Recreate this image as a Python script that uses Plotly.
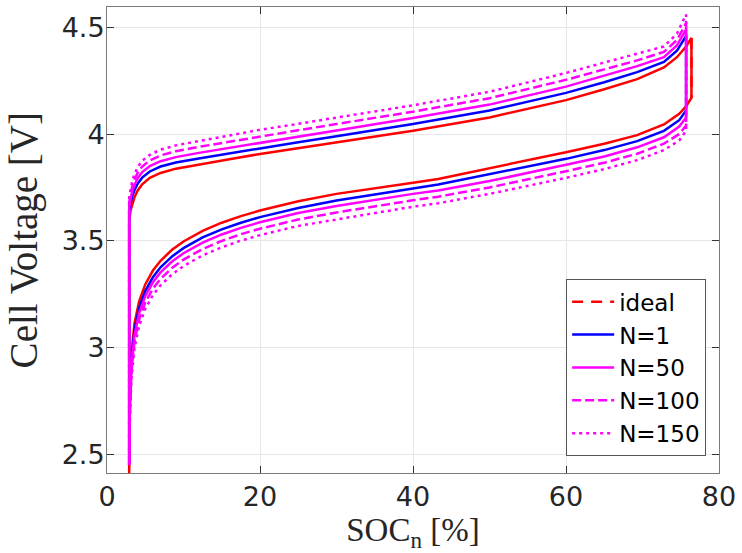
import plotly.graph_objects as go

# ---------------- data ----------------
# charge branch (upper curves), SOC_n [%]
soc_up = [2.9, 2.9, 3.1, 3.3, 3.6, 4.0, 4.6, 5.6, 7, 9, 12, 16, 20, 25, 30, 40, 50, 60, 65, 69.3, 72.8, 74.5, 75.7]
# discharge branch (lower curves), SOC_n [%]
soc_dn = [75.7, 74.8, 72.8, 69.3, 65, 60, 50, 43.3, 40, 30, 25, 20, 17.5, 15, 12.5, 10, 8.5, 7, 6, 5, 4.2, 3.6, 3.2, 3.0, 2.9]

# ideal: loop closes slightly further right
soc_up_ideal = soc_up + [76.4]
soc_dn_ideal = [76.4] + soc_dn

v_up_ideal = [2.41, 3.60, 3.645, 3.675, 3.705, 3.735, 3.765, 3.795, 3.818, 3.838, 3.858, 3.882, 3.907, 3.934, 3.961, 4.016, 4.078, 4.159, 4.21, 4.257, 4.312, 4.36, 4.41, 4.45]
v_dn_ideal = [4.17, 4.13, 4.095, 4.045, 3.995, 3.955, 3.915, 3.842, 3.79, 3.772, 3.72, 3.685, 3.642, 3.616, 3.585, 3.547, 3.497, 3.458, 3.407, 3.361, 3.296, 3.217, 3.115, 2.975, 2.79, 2.41]

v_up_n1 = [2.45, 3.64, 3.68, 3.71, 3.738, 3.767, 3.796, 3.825, 3.848, 3.867, 3.886, 3.91, 3.934, 3.962, 3.99, 4.047, 4.11, 4.193, 4.243, 4.29, 4.338, 4.39, 4.46]
v_dn_n1 = [4.11, 4.065, 4.015, 3.967, 3.925, 3.884, 3.81, 3.764, 3.745, 3.689, 3.654, 3.611, 3.585, 3.554, 3.516, 3.466, 3.427, 3.376, 3.33, 3.265, 3.186, 3.084, 2.944, 2.763, 2.45]

v_up_n50 = [2.45, 3.66, 3.70, 3.733, 3.762, 3.792, 3.822, 3.85, 3.873, 3.892, 3.912, 3.936, 3.96, 3.988, 4.017, 4.075, 4.138, 4.222, 4.272, 4.318, 4.36, 4.415, 4.49]
v_dn_n50 = [4.078, 4.035, 3.985, 3.938, 3.895, 3.856, 3.78, 3.736, 3.72, 3.663, 3.63, 3.587, 3.561, 3.53, 3.492, 3.442, 3.403, 3.352, 3.306, 3.241, 3.162, 3.06, 2.92, 2.74, 2.45]

v_up_n100 = [2.45, 3.68, 3.72, 3.755, 3.787, 3.818, 3.848, 3.877, 3.90, 3.92, 3.94, 3.965, 3.99, 4.018, 4.047, 4.105, 4.168, 4.254, 4.303, 4.345, 4.385, 4.44, 4.52]
v_dn_n100 = [4.04, 4.0, 3.955, 3.908, 3.866, 3.826, 3.75, 3.707, 3.69, 3.633, 3.60, 3.557, 3.531, 3.50, 3.462, 3.412, 3.373, 3.322, 3.276, 3.211, 3.132, 3.03, 2.89, 2.71, 2.45]

v_up_n150 = [2.45, 3.70, 3.745, 3.78, 3.812, 3.845, 3.875, 3.903, 3.927, 3.947, 3.967, 3.993, 4.02, 4.048, 4.077, 4.135, 4.198, 4.286, 4.335, 4.375, 4.41, 4.47, 4.56]
v_dn_n150 = [4.016, 3.97, 3.925, 3.878, 3.836, 3.795, 3.72, 3.676, 3.66, 3.602, 3.57, 3.527, 3.501, 3.47, 3.432, 3.382, 3.343, 3.292, 3.246, 3.181, 3.102, 3.0, 2.86, 2.68, 2.45]

series = [
    ("N=1", v_up_n1, v_dn_n1, "#0000FF", "solid"),
    ("N=50", v_up_n50, v_dn_n50, "#FF00FF", "solid"),
    ("N=100", v_up_n100, v_dn_n100, "#FF00FF", "9px,4px"),
    ("N=150", v_up_n150, v_dn_n150, "#FF00FF", "3px,4px"),
]

x_ticks = [0, 20, 40, 60, 80]
y_ticks = [2.5, 3, 3.5, 4, 4.5]
y_tick_text = ["2.5", "3", "3.5", "4", "4.5"]

# ---------------- figure ----------------
fig = go.Figure()

# ideal loop (dense data -> appears solid), legend entry shows the dash
fig.add_trace(go.Scatter(
    x=soc_up_ideal + soc_dn_ideal, y=v_up_ideal + v_dn_ideal,
    mode="lines", line=dict(color="#FF0000", width=2.5),
    showlegend=False, hoverinfo="skip"))
fig.add_trace(go.Scatter(
    x=[soc_up_ideal[-1], soc_dn_ideal[0]], y=[v_up_ideal[-1], v_dn_ideal[0]],
    mode="lines", name="ideal",
    line=dict(color="#FF0000", width=2.5, dash="11px,8px")))

for name, vu, vd, col, dash in series:
    fig.add_trace(go.Scatter(
        x=soc_up + soc_dn, y=vu + vd, mode="lines", name=name,
        line=dict(color=col, width=2.5, dash=dash)))

axis_common = dict(
    showline=True, linecolor="#7a7a7a", linewidth=1, mirror="ticks",
    ticks="inside", ticklen=7, tickcolor="#333333", tickwidth=1,
    showgrid=True, gridcolor="#e6e6e6", gridwidth=1, zeroline=False,
    tickfont=dict(family="DejaVu Sans", size=27, color="#262626"),
)

fig.update_xaxes(range=[0, 80], tickvals=x_ticks,
                 title=dict(text="SOC<sub>n</sub> [%]",
                            font=dict(family="Liberation Serif", size=33, color="#262626"),
                            standoff=4),
                 **axis_common)
fig.update_yaxes(range=[2.413, 4.595], tickvals=y_ticks, ticktext=y_tick_text,
                 ticklabelstandoff=-4, **axis_common)

fig.add_annotation(
    text="Cell Voltage [V]", textangle=-90, showarrow=False,
    xref="paper", yref="paper", x=-0.135, y=0.5,
    xanchor="center", yanchor="middle",
    font=dict(family="Liberation Serif", size=39, color="#262626"))

fig.update_layout(
    width=742, height=553,
    margin=dict(l=107, r=20, t=6, b=80),
    paper_bgcolor="white", plot_bgcolor="white",
    legend=dict(x=0.979, y=0.036, xanchor="right", yanchor="bottom",
                bgcolor="white", bordercolor="#555555", borderwidth=1,
                font=dict(family="DejaVu Sans", size=23, color="#000000"),
                itemwidth=42, tracegroupgap=0),
)

fig.write_html("out.html")
